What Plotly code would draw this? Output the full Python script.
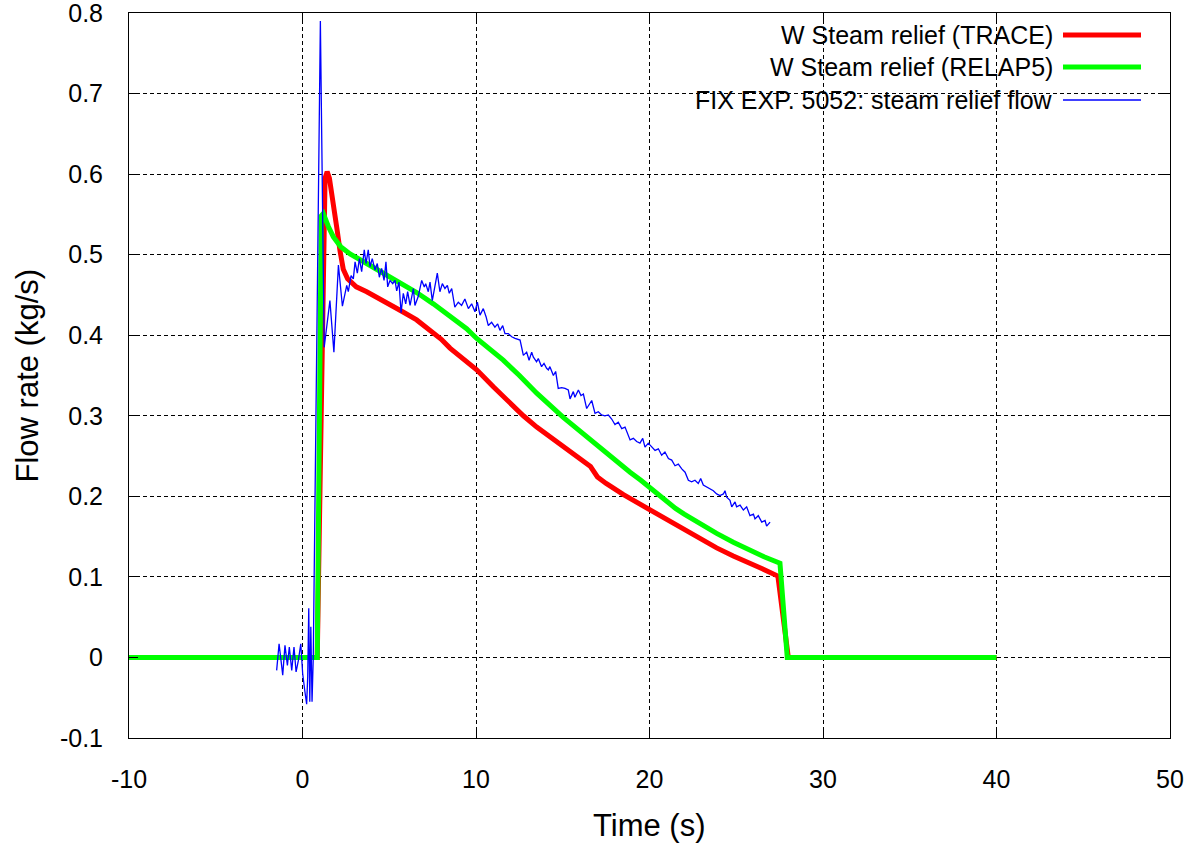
import plotly.graph_objects as go

# ---------------- data ----------------
t_trace = [-10, 0.85, 1.30, 1.42, 1.55, 1.78, 2.00, 2.16, 2.35, 2.60, 3.10, 3.70, 4.66, 5.62,
           6.58, 7.54, 8.00, 8.50, 9.00, 9.50, 10.04, 11.00, 11.96, 12.73, 13.50, 14.84, 15.80,
           16.40, 16.60, 17.00, 17.50, 18.50, 20.03, 21.00, 22.00, 22.90, 23.87, 24.83, 25.50,
           26.50, 27.40, 28.00, 40]
q_trace = [0, 0, 0.595, 0.603, 0.595, 0.565, 0.530, 0.505, 0.482, 0.470, 0.460, 0.454, 0.443, 0.431,
           0.419, 0.404, 0.395, 0.384, 0.375, 0.366, 0.357, 0.336, 0.315, 0.300, 0.286, 0.265, 0.250,
           0.242, 0.237, 0.224, 0.216, 0.202, 0.183, 0.171, 0.159, 0.147, 0.136, 0.126, 0.119,
           0.110, 0.101, 0, 0]

t_relap = [-10, 0.85, 1.08, 1.20, 1.49, 1.78, 2.20, 2.74, 3.70, 4.66, 5.62, 6.58, 7.54, 8.50,
           9.46, 10.04, 11.00, 11.57, 12.50, 13.50, 15.03, 16.57, 17.70, 18.88, 19.50, 20.00,
           20.50, 21.00, 21.50, 22.00, 22.90, 23.87, 24.83, 25.79, 26.60, 27.52, 27.94, 40]
q_relap = [0, 0, 0.548, 0.551, 0.535, 0.522, 0.510, 0.501, 0.489, 0.477, 0.466, 0.453, 0.439, 0.423,
           0.408, 0.396, 0.380, 0.369, 0.350, 0.328, 0.298, 0.270, 0.250, 0.230, 0.220, 0.211,
           0.201, 0.192, 0.185, 0.178, 0.166, 0.154, 0.143, 0.133, 0.125, 0.117, 0, 0]

t_exp = [-1.49, -1.35, -1.14, -1.01, -0.87, -0.76, -0.62, -0.49, -0.37, -0.24,
         -0.10, 0.01, 0.13, 0.24, 0.30, 0.36, 0.42, 0.48, 0.55, 0.62,
         1.03, 1.25, 1.58, 1.81, 2.07, 2.30, 2.55, 2.64, 2.80, 2.93,
         3.03, 3.16, 3.28, 3.41, 3.56, 3.66, 3.79, 3.89, 4.02, 4.18,
         4.31, 4.43, 4.56, 4.70, 4.81, 4.91, 5.04, 5.20, 5.33, 5.43,
         5.56, 5.68, 5.81, 5.95, 6.06, 6.20, 6.39, 6.48, 6.67, 6.87,
         7.02, 7.10, 7.25, 7.35, 7.48, 7.77, 7.92, 8.06, 8.21, 8.35,
         8.46, 8.60, 8.78, 8.98, 9.17, 9.36, 9.56, 9.75, 9.94, 10.08,
         10.23, 10.42, 10.58, 10.71, 10.90, 11.09, 11.25, 11.38, 11.54, 11.67,
         11.86, 12.06, 12.25, 12.54, 12.73, 12.92, 13.06, 13.21, 13.30, 13.49,
         13.59, 13.78, 13.92, 14.07, 14.17, 14.26, 14.46, 14.59, 14.74, 14.94,
         15.13, 15.32, 15.42, 15.61, 15.70, 15.90, 16.05, 16.19, 16.38, 16.57,
         16.67, 16.86, 17.05, 17.24, 17.43, 17.63, 17.82, 18.01, 18.20, 18.40,
         18.59, 18.88, 19.07, 19.26, 19.45, 19.61, 19.74, 19.93, 20.12, 20.32,
         20.51, 20.70, 20.89, 21.09, 21.28, 21.47, 21.66, 21.86, 22.05, 22.24,
         22.43, 22.62, 22.81, 22.95, 23.10, 23.29, 23.49, 23.68, 23.87, 24.06,
         24.26, 24.35, 24.45, 24.64, 24.74, 24.93, 25.02, 25.22, 25.41, 25.60,
         25.79, 25.99, 26.08, 26.27, 26.47, 26.66, 26.75, 26.95]
q_exp = [-0.016, 0.017, -0.022, 0.015, -0.010, 0.013, -0.016, 0.013, -0.018, -0.004,
         0.017, -0.020, -0.041, -0.058, -0.024, 0.061, -0.055, 0.038, -0.055, 0.000,
         0.790, 0.385, 0.443, 0.379, 0.487, 0.436, 0.462, 0.454, 0.474, 0.470,
         0.491, 0.477, 0.495, 0.479, 0.506, 0.489, 0.506, 0.485, 0.495, 0.481,
         0.489, 0.472, 0.483, 0.468, 0.491, 0.460, 0.468, 0.464, 0.468, 0.455,
         0.466, 0.428, 0.452, 0.439, 0.454, 0.437, 0.458, 0.437, 0.448, 0.468,
         0.460, 0.464, 0.454, 0.466, 0.443, 0.477, 0.454, 0.464, 0.458, 0.462,
         0.452, 0.458, 0.435, 0.441, 0.437, 0.445, 0.433, 0.439, 0.429, 0.441,
         0.425, 0.433, 0.423, 0.412, 0.416, 0.410, 0.414, 0.406, 0.412, 0.402,
         0.402, 0.398, 0.396, 0.394, 0.375, 0.379, 0.369, 0.379, 0.373, 0.367,
         0.371, 0.361, 0.365, 0.359, 0.357, 0.361, 0.350, 0.355, 0.334, 0.335,
         0.334, 0.332, 0.321, 0.330, 0.323, 0.332, 0.325, 0.327, 0.309, 0.315,
         0.319, 0.303, 0.305, 0.301, 0.300, 0.301, 0.296, 0.289, 0.292, 0.284,
         0.286, 0.270, 0.272, 0.268, 0.266, 0.272, 0.261, 0.266, 0.261, 0.257,
         0.259, 0.251, 0.255, 0.247, 0.245, 0.238, 0.240, 0.234, 0.230, 0.220,
         0.218, 0.220, 0.216, 0.222, 0.214, 0.212, 0.210, 0.207, 0.203, 0.201,
         0.203, 0.207, 0.199, 0.195, 0.187, 0.193, 0.187, 0.189, 0.183, 0.187,
         0.176, 0.178, 0.172, 0.176, 0.168, 0.170, 0.163, 0.168]

x_ticks = [-10, 0, 10, 20, 30, 40, 50]
x_tick_labels = ["-10", "0", "10", "20", "30", "40", "50"]
y_ticks = [-0.1, 0, 0.1, 0.2, 0.3, 0.4, 0.5, 0.6, 0.7, 0.8]
y_tick_labels = ["-0.1", "0", "0.1", "0.2", "0.3", "0.4", "0.5", "0.6", "0.7", "0.8"]

series_names = ["W Steam relief (TRACE)", "W Steam relief (RELAP5)",
                "FIX EXP. 5052: steam relief flow"]
series_colors = ["#ff0000", "#00ff00", "#0000ff"]
series_widths = [5, 5, 1.3]

FONT = "Liberation Sans, Arial, sans-serif"

fig = go.Figure()
for tx, qy, name, col, w in zip([t_trace, t_relap, t_exp], [q_trace, q_relap, q_exp],
                                series_names, series_colors, series_widths):
    fig.add_trace(go.Scatter(x=tx, y=qy, mode="lines", name=name,
                             line=dict(color=col, width=w), showlegend=False))

W, H = 1197, 843
L, R, T, B = 129, 27, 13, 105
pw, ph = W - L - R, H - T - B

def px_x(p):
    return (p - L) / pw

def px_y(p):
    return (H - B - p) / ph

shapes = []
# opaque key box
shapes.append(dict(type="rect", xref="paper", yref="paper", x0=px_x(560), x1=1.0,
                   y0=px_y(115), y1=1.0, fillcolor="white", line=dict(width=0),
                   layer="between"))
annotations = []
key_y = [35, 67, 100]
for name, col, w, yy in zip(series_names, series_colors, series_widths, key_y):
    shapes.append(dict(type="line", xref="paper", yref="paper", x0=px_x(1063), x1=px_x(1141),
                       y0=px_y(yy), y1=px_y(yy), line=dict(color=col, width=w), layer="above"))
    annotations.append(dict(text=name, xref="paper", yref="paper", x=px_x(1055), y=px_y(yy),
                            xanchor="right", yanchor="middle", showarrow=False,
                            font=dict(family=FONT, size=25, color="black")))

annotations.append(dict(text="Time (s)", xref="paper", yref="paper", x=0.5, y=0,
                        yshift=-87, xanchor="center", yanchor="middle", showarrow=False,
                        font=dict(family=FONT, size=31, color="black")))
annotations.append(dict(text="Flow rate (kg/s)", xref="paper", yref="paper", x=0, y=0.5,
                        xshift=-102, textangle=-90, xanchor="center", yanchor="middle",
                        showarrow=False, font=dict(family=FONT, size=31, color="black")))

axis_common = dict(showline=True, linecolor="black", linewidth=1, mirror="allticks",
                   ticks="inside", ticklen=9, tickcolor="black", showgrid=True,
                   gridcolor="black", gridwidth=1, griddash="4px,3px", zeroline=False,
                   ticklabeloverflow="allow",
                   tickfont=dict(family=FONT, size=25, color="black"))

fig.update_layout(
    width=W, height=H, margin=dict(l=L, r=R, t=T, b=B, autoexpand=False),
    paper_bgcolor="white", plot_bgcolor="white", showlegend=False,
    xaxis=dict(range=[-10, 50], tickvals=x_ticks, ticktext=x_tick_labels,
               ticklabelstandoff=19, **axis_common),
    yaxis=dict(range=[-0.1, 0.8], tickvals=y_ticks, ticktext=y_tick_labels,
               ticklabelstandoff=20, **axis_common),
    shapes=shapes, annotations=annotations,
)

fig.write_html("out.html")
